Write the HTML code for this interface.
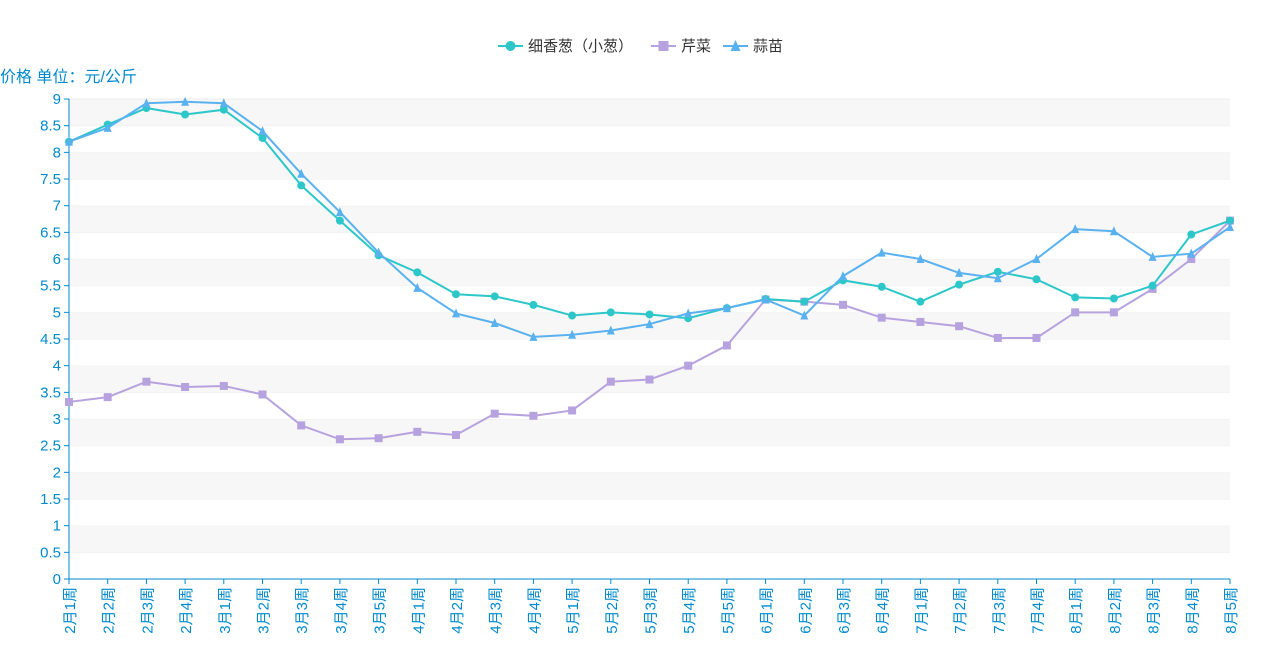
<!DOCTYPE html>
<html><head><meta charset="utf-8">
<style>
body{margin:0;background:#fff;}
svg text{font-family:"Liberation Sans","Noto Sans CJK SC",sans-serif;}
</style></head>
<body>
<svg id="c" width="1282" height="658" xmlns="http://www.w3.org/2000/svg"></svg>
<script>
const s=document.getElementById('c');
const X0=69,X1=1230,Y0=579,K=53.33;
const cats=[];const months=[[2,4],[3,5],[4,4],[5,5],[6,4],[7,4],[8,5]];
months.forEach(([m,n])=>{for(let i=1;i<=n;i++)cats.push(m+'月'+i+'周');});
const step=(X1-X0)/(cats.length-1);
let h='';
for(let i=0;i<18;i++){const y=Y0-(i+1)*K/2;h+=`<rect x="${X0}" y="${y}" width="${X1-X0}" height="${K/2}" fill="${i%2?'#f7f7f7':'#fff'}"/>`;h+=`<line x1="${X0}" x2="${X1}" y1="${y}" y2="${y}" stroke="#eee"/>`;}
for(let i=0;i<=18;i++){const y=Y0-i*K/2;const v=i/2;h+=`<text x="61" y="${y+5}" text-anchor="end" font-size="15" fill="#008acd">${v}</text><line x1="64" x2="69" y1="${y}" y2="${y}" stroke="#008acd"/>`;}
h+=`<line x1="${X0}" x2="${X0}" y1="99" y2="${Y0}" stroke="#008acd"/><line x1="${X0}" x2="${X1}" y1="${Y0}" y2="${Y0}" stroke="#008acd"/>`;
cats.forEach((c,i)=>{const x=X0+i*step;h+=`<line x1="${x}" x2="${x}" y1="${Y0}" y2="${Y0+5}" stroke="#008acd"/><text transform="translate(${x+6},${Y0+8}) rotate(-90)" text-anchor="end" font-size="15" fill="#008acd">${c}</text>`;});
h+=`<text x="0" y="82" font-size="16" fill="#008acd">价格 单位：元/公斤</text>`;
const d1=[8.2,8.52,8.83,8.71,8.8,8.27,7.38,6.72,6.07,5.75,5.34,5.3,5.14,4.94,5.0,4.96,4.89,5.08,5.25,5.2,5.6,5.48,5.2,5.52,5.76,5.62,5.28,5.26,5.5,6.46,6.72];
const d2=[3.32,3.41,3.7,3.6,3.62,3.46,2.88,2.62,2.64,2.76,2.7,3.1,3.06,3.16,3.7,3.74,4.0,4.38,5.24,5.2,5.14,4.9,4.82,4.74,4.52,4.52,5.0,5.0,5.44,6.0,6.72];
const d3=[8.2,8.46,8.92,8.95,8.92,8.4,7.6,6.88,6.12,5.46,4.98,4.8,4.54,4.58,4.66,4.78,4.98,5.08,5.24,4.94,5.68,6.12,6.0,5.74,5.64,6.0,6.56,6.52,6.04,6.1,6.6];
function mk(t,x,y,c,r){if(t=='c')return `<circle cx="${x}" cy="${y}" r="${r}" fill="${c}"/>`;if(t=='s')return `<rect x="${x-r}" y="${y-r}" width="${2*r}" height="${2*r}" fill="${c}"/>`;return `<polygon points="${x},${y-r-1} ${x-r},${y+r} ${x+r},${y+r}" fill="${c}"/>`;}
function ser(d,c,t){let p=d.map((v,i)=>(X0+i*step)+','+(Y0-v*K)).join(' ');let o=`<polyline points="${p}" fill="none" stroke="${c}" stroke-width="2"/>`;d.forEach((v,i)=>o+=mk(t,X0+i*step,Y0-v*K,c,4));return o;}
h+=ser(d2,'#b6a2de','s')+ser(d1,'#2ec7c9','c')+ser(d3,'#5ab1ef','t');
function leg(x,c,t,l){return `<line x1="${x}" x2="${x+25}" y1="46" y2="46" stroke="${c}" stroke-width="2"/>`+mk(t,x+12.5,46,c,5)+`<text x="${x+30}" y="51" font-size="15" fill="#333">${l}</text>`;}
h+=leg(498,'#2ec7c9','c','细香葱（小葱）')+leg(651,'#b6a2de','s','芹菜')+leg(723,'#5ab1ef','t','蒜苗');
s.innerHTML=h;
</script>
</body></html>
